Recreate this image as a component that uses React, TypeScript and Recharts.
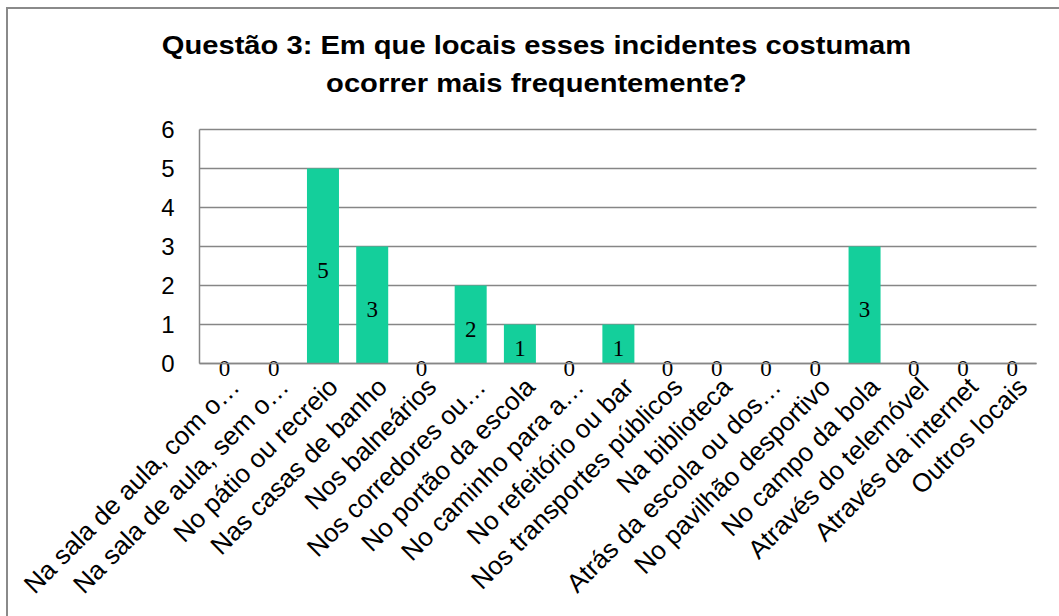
import { BarChart, Bar, XAxis, YAxis, CartesianGrid } from "recharts";

// locais (labels already truncated like in the original chart)
const locais = [
  "Na sala de aula, com o…",
  "Na sala de aula, sem o…",
  "No pátio ou recreio",
  "Nas casas de banho",
  "Nos balneários",
  "Nos corredores ou…",
  "No portão da escola",
  "No caminho para a…",
  "No refeitório ou bar",
  "Nos transportes públicos",
  "Na biblioteca",
  "Atrás da escola ou dos…",
  "No pavilhão desportivo",
  "No campo da bola",
  "Através do telemóvel",
  "Através da internet",
  "Outros locais",
];
const respostas = [0, 0, 5, 3, 0, 2, 1, 0, 1, 0, 0, 0, 0, 3, 0, 0, 0];
const yTicks = [0, 1, 2, 3, 4, 5, 6];

const titleLines = ["Questão 3: Em que locais esses incidentes costumam", "ocorrer mais frequentemente?"];

const SANS = "'Liberation Sans', Arial, sans-serif";
const SERIF = "'Liberation Serif', 'Times New Roman', serif";
const GRAY = "#868686";
const GREEN = "#14cf9b";

const data = locais.map((name, i) => ({ name, value: respostas[i] }));

function XTick(props: any) {
  const { x, y, payload } = props;
  const ax = x + 17;
  const ay = y + 17;
  return (
    <text
      x={ax}
      y={ay}
      transform={`rotate(-45, ${ax}, ${ay})`}
      textAnchor="end"
      fontSize={26}
      fontFamily={SANS}
      fill="#000"
    >
      {payload.value}
    </text>
  );
}

// bar + its value label (drawn here so the zero bars get their "0" too)
function BarWithLabel(props: any) {
  const { x, y, width, height, value } = props;
  const v = Array.isArray(value) ? value[1] - value[0] : value;
  return (
    <g>
      {height > 0 && <rect x={x} y={y} width={width} height={height} fill={GREEN} />}
      <text
        x={x + width / 2}
        y={y + height / 2 + 12}
        textAnchor="middle"
        fontSize={23}
        fontFamily={SERIF}
        fill="#000"
      >
        {v}
      </text>
    </g>
  );
}

export default function App() {
  return (
    <div style={{ position: "absolute", left: 0, top: 0, width: 1059, height: 616, background: "#fff", overflow: "hidden" }}>
      {/* frame (only left and top edges are visible in the crop) */}
      <div
        style={{
          position: "absolute",
          left: 6,
          top: 7,
          right: 0,
          bottom: 0,
          borderLeft: "2px solid #8a8a8a",
          borderTop: "2px solid #8a8a8a",
        }}
      />
      <div
        style={{
          position: "absolute",
          top: 25.6,
          left: 0,
          width: 1073,
          textAlign: "center",
          fontFamily: SANS,
          fontWeight: "bold",
          fontSize: 26,
          lineHeight: "38px",
          color: "#000",
          transform: "scaleX(1.12)",
          transformOrigin: "center",
        }}
      >
        {titleLines.map((l) => (
          <div key={l}>{l}</div>
        ))}
      </div>
      <div style={{ position: "absolute", left: 0, top: 0 }}>
        <BarChart
          width={1059}
          height={616}
          data={data}
          margin={{ top: 129.5, right: 22.5, bottom: 12.5, left: 139.5 }}
        >
          <CartesianGrid horizontal vertical={false} stroke={GRAY} strokeWidth={1.5} />
          <XAxis
            dataKey="name"
            interval={0}
            height={240}
            tickLine={false}
            axisLine={{ stroke: GRAY, strokeWidth: 1.5 }}
            tick={<XTick />}
          />
          <YAxis
            domain={[0, 6]}
            ticks={yTicks}
            width={60}
            tickLine={false}
            tickSize={6}
            tickMargin={19}
            axisLine={{ stroke: GRAY, strokeWidth: 1.5 }}
            tick={{ fontSize: 24, fontFamily: SANS, fill: "#000" }}
          />
          <Bar
            dataKey="value"
            fill={GREEN}
            barSize={32}
            isAnimationActive={false}
            shape={(p: any) => <BarWithLabel {...p} />}
          />
        </BarChart>
      </div>
    </div>
  );
}
